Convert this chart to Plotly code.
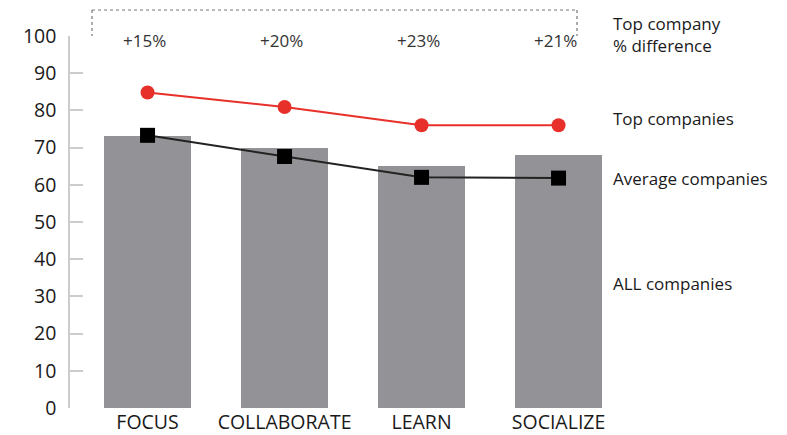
import plotly.graph_objects as go

categories = ["FOCUS", "COLLABORATE", "LEARN", "SOCIALIZE"]
all_companies = [73, 70, 65, 68]
top_companies = [84.8, 80.9, 76.0, 76.0]
avg_companies = [73.3, 67.6, 62.0, 61.8]
pct_diff = ["+15%", "+20%", "+23%", "+21%"]
y_ticks = [0, 10, 20, 30, 40, 50, 60, 70, 80, 90, 100]

FONT = "Open Sans"
x_idx = list(range(len(categories)))

W, H = 787, 435
L, R, T, B = 70, 172, 36, 27
PW, PH = W - L - R, H - T - B


def px(x):
    return (x - L) / PW


def py(y):
    return (H - B - y) / PH


fig = go.Figure()
fig.add_trace(go.Bar(x=x_idx, y=all_companies, marker=dict(color="#939397", line=dict(width=0)),
                     width=0.635, showlegend=False))
fig.add_trace(go.Scatter(x=x_idx, y=top_companies, mode="lines+markers",
                         line=dict(color="#e8302a", width=2),
                         marker=dict(symbol="circle", size=14, color="#e8302a"), showlegend=False))
fig.add_trace(go.Scatter(x=x_idx, y=avg_companies, mode="lines+markers",
                         line=dict(color="#222222", width=2),
                         marker=dict(symbol="square", size=15, color="#000000"), showlegend=False))

for i, t in enumerate(pct_diff):
    fig.add_annotation(x=i - 0.02, y=py(40), xref="x", yref="paper", text=t, showarrow=False,
                       font=dict(family=FONT, size=17, color="#333333"), yanchor="middle")

right_labels = [("Top company<br>% difference", 34), ("Top companies", 118),
                ("Average companies", 178), ("ALL companies", 283)]
for txt, yy in right_labels:
    fig.add_annotation(x=px(611), y=py(yy), xref="paper", yref="paper", text=txt,
                       showarrow=False, xanchor="left", yanchor="middle", align="left",
                       font=dict(family=FONT, size=17, color="#1a1a1a"))

# dotted bracket above the chart
line = dict(color="#777777", width=1.2, dash="dot")
fig.add_shape(type="line", xref="paper", yref="paper", x0=px(92), x1=px(577),
              y0=py(10), y1=py(10), line=line)
fig.add_shape(type="line", xref="paper", yref="paper", x0=px(92), x1=px(92),
              y0=py(10), y1=py(36), line=line)
fig.add_shape(type="line", xref="paper", yref="paper", x0=px(577), x1=px(577),
              y0=py(10), y1=py(36), line=line)

fig.update_layout(
    width=W, height=H,
    margin=dict(l=L, r=R, t=T, b=B),
    paper_bgcolor="white", plot_bgcolor="white",
    bargap=0,
    xaxis=dict(range=[-0.566, 3.412], tickvals=x_idx, ticktext=categories,
               showgrid=False, zeroline=False, showline=False, ticks="",
               automargin=False,
               tickfont=dict(family=FONT, size=19.5, color="#1a1a1a"), fixedrange=True),
    yaxis=dict(range=[0, 100], tickvals=y_ticks, showgrid=False, zeroline=False,
               automargin=False,
               showline=True, linecolor="#cccccc", linewidth=1.5,
               ticks="inside", ticklen=13, tickcolor="#cccccc", tickwidth=1.5,
               tickfont=dict(family=FONT, size=19.5, color="#1a1a1a"), ticklabelstandoff=8),
)

fig.write_html("out.html")
